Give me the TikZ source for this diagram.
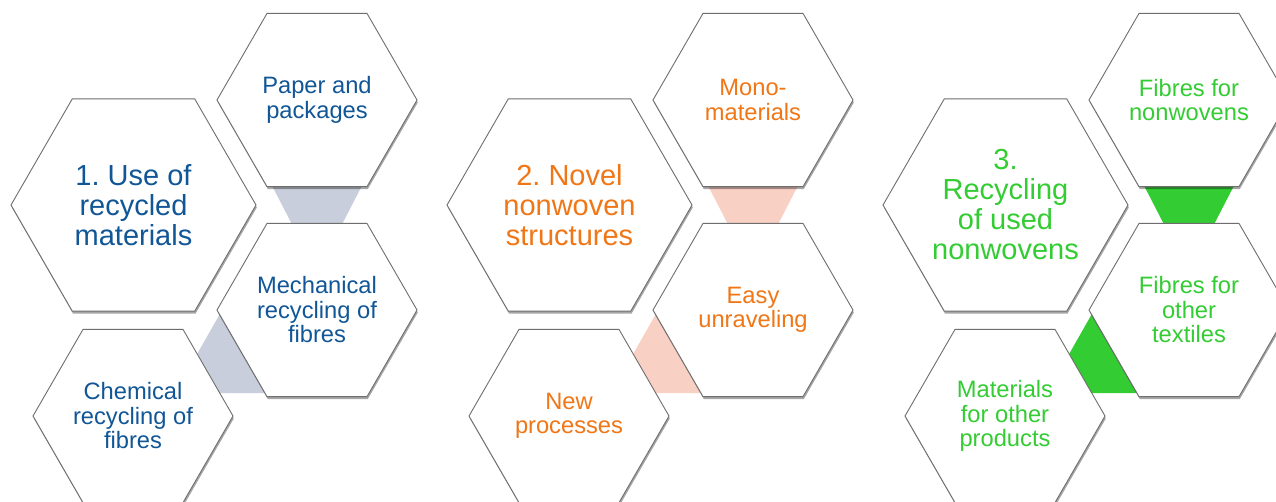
\documentclass[tikz,border=0pt]{standalone}
\usepackage{fontspec}
\setmainfont{Liberation Sans}
\usetikzlibrary{shapes.geometric,shadows,calc}
\pgfdeclarelayer{background}
\pgfsetlayers{background,main}
\definecolor{cblue}{RGB}{17,86,150}
\definecolor{corange}{RGB}{240,118,22}
\definecolor{cgreen}{RGB}{51,204,51}
\definecolor{lblue}{RGB}{200,206,219}
\definecolor{lorange}{RGB}{248,208,196}
\definecolor{lgreen}{RGB}{51,204,51}
\definecolor{hexline}{RGB}{110,110,110}
\tikzset{
  hexbase/.style={regular polygon, regular polygon sides=6, draw=hexline, line width=0.9pt,
    fill=white, inner sep=0pt, outer sep=0pt, align=center,
    drop shadow={shadow xshift=0.8pt, shadow yshift=-2.5pt, opacity=0.35, fill=black}},
  bighex/.style={hexbase, minimum size=245pt, font=\fontsize{29}{30}\selectfont},
  smallhex/.style={hexbase, minimum size=200pt, font=\fontsize{23.7}{24.5}\selectfont},
}
\frenchspacing
\begin{document}
\begin{tikzpicture}[x=1pt,y=-1pt]
\useasboundingbox (0,0) rectangle (1276,501);
\clip (0,0) rectangle (1276,501);

% group 1
\node[bighex, text=cblue] (big1) at (133.5,205) {1. Use of\\recycled\\materials};
\node[smallhex, text=cblue] (a1) at (317,100) {Paper and\\packages};
\node[smallhex, text=cblue] (b1) at (317,310) {Mechanical\\recycling of\\fibres};
\node[smallhex, text=cblue] (c1) at (133,416) {Chemical\\recycling of\\fibres};

% group 2
\node[bighex, text=corange] (big2) at (569.5,205) {2. Novel\\nonwoven\\structures};
\node[smallhex, text=corange] (a2) at (753,100) {Mono-\\materials};
\node[smallhex, text=corange] (b2) at (753,310) {Easy\\unraveling};
\node[smallhex, text=corange] (c2) at (569,416) {New\\processes};

% group 3
\node[bighex, text=cgreen] (big3) at (1005.5,205) {3.\\Recycling\\of used\\nonwovens};
\node[smallhex, text=cgreen] (a3) at (1189,100) {Fibres for\\nonwovens};
\node[smallhex, text=cgreen] (b3) at (1189,310) {Fibres for\\other\\textiles};
\node[smallhex, text=cgreen] (c3) at (1005,416) {Materials\\for other\\products};

\begin{pgfonlayer}{background}
\fill[white] (0,0) rectangle (1276,501);
\foreach \g/\col in {1/lblue,2/lorange,3/lgreen}{
  \fill[\col] ($(a\g)+(-47.9,80)$) -- ($(a\g)+(47.9,80)$) -- ($(b\g)+(22.1,-80)$) -- ($(b\g)+(-22.1,-80)$) -- cycle;
  \fill[\col] ($(b\g)+(-96,2)$) -- ($(c\g)+(55,-46)$) -- ($(c\g)+(80,-23)$) -- ($(b\g)+(-49,83)$) -- cycle;
}
\end{pgfonlayer}
\end{tikzpicture}
\end{document}
